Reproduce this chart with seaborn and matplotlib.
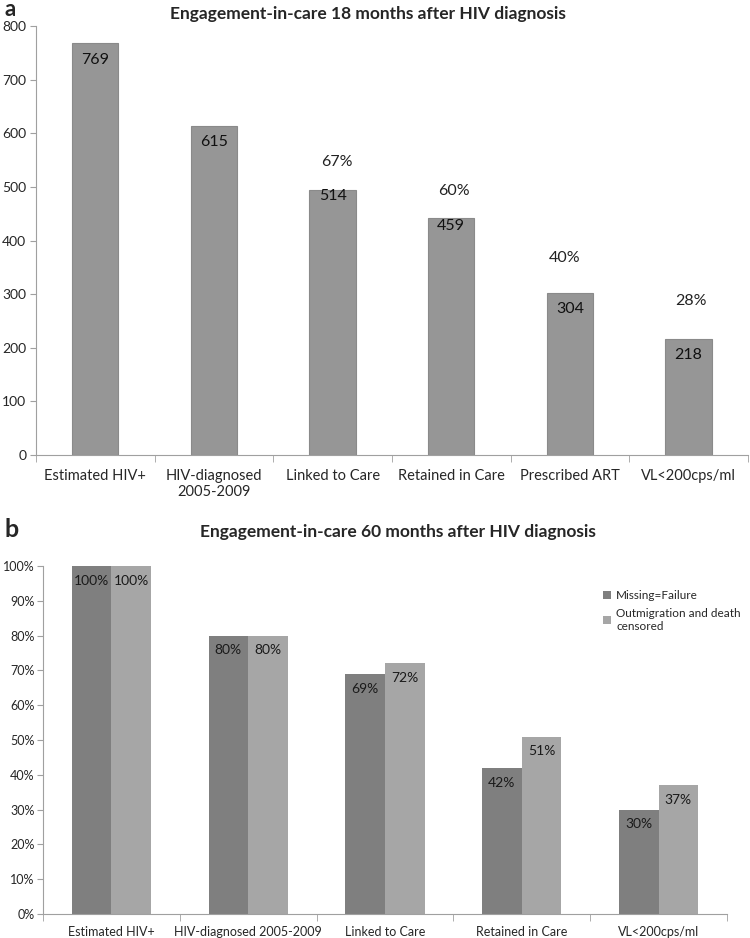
import matplotlib
import numpy as np
import pandas as pd
import seaborn as sns
from matplotlib import pyplot as plt

# panel a: engagement at 18 months
stages_a = ["Estimated HIV+", "HIV-diagnosed\n2005-2009", "Linked to Care",
            "Retained in Care", "Prescribed ART", "VL<200cps/ml"]
bar_heights_a = [769, 613, 495, 442, 302, 216]
counts_a = [769, 615, 514, 459, 304, 218]
pct_a = ["", "", "67%", "60%", "40%", "28%"]

# panel b: engagement at 60 months
stages_b = ["Estimated HIV+", "HIV-diagnosed 2005-2009", "Linked to Care",
            "Retained in Care", "VL<200cps/ml"]
missing_failure = [100, 80, 69, 42, 30]
censored = [100, 80, 72, 51, 37]
series_b = ["Missing=Failure", "Outmigration and death\ncensored"]

sns.set_style("white")
plt.rcParams["font.family"] = ["Lato", "DejaVu Sans"]

fig = plt.figure(figsize=(7.5, 9.38), dpi=100)
ax1 = fig.add_axes([0.048, 0.5149, 0.949, 0.4574])
ax2 = fig.add_axes([0.0573, 0.0256, 0.912, 0.371])

axis_grey = "#a0a0a0"
px = 72 / 100  # points per pixel

# ---- panel a ----
sns.barplot(x=stages_a, y=bar_heights_a, color="#969696", width=0.39,
            edgecolor="#8a8a8a", linewidth=0.8, saturation=1, ax=ax1)
ax1.set_ylim(0, 800)
ax1.set_yticks(np.arange(0, 801, 100))
ax1.tick_params(axis="y", labelsize=10, length=4, color=axis_grey,
                left=True, pad=3)
ax1.tick_params(axis="x", labelsize=10.5, length=0, pad=10)
ax1.set_xticks(np.arange(-0.5, len(stages_a)), minor=True)
ax1.tick_params(axis="x", which="minor", length=5, color=axis_grey, bottom=True)
pct_offsets = [0, 0, 17, 18, 34, 37]
pct_shift = [0, 0, 0.04, 0.02, -0.04, 0.02]
for i, (c, p) in enumerate(zip(counts_a, pct_a)):
    ax1.annotate(str(c), (i, c), xytext=(0, -17 * px), textcoords="offset points",
                 ha="center", va="center", fontsize=11.5, color="#111111")
    if p:
        ax1.annotate(p, (i + pct_shift[i], c), xytext=(0, pct_offsets[i] * px),
                     textcoords="offset points", ha="center", va="center",
                     fontsize=11.5, color="#222222")
ax1.set_title("Engagement-in-care 18 months after HIV diagnosis",
              fontsize=12.5, fontweight="bold", pad=5, x=0.466)
fig.text(0.006, 0.983, "a", fontsize=16, fontweight="bold", va="baseline")

# ---- panel b ----
df_b = pd.DataFrame({
    "stage": stages_b * 2,
    "pct": missing_failure + censored,
    "series": [series_b[0]] * len(stages_b) + [series_b[1]] * len(stages_b),
})
sns.barplot(data=df_b, x="stage", y="pct", hue="series", width=0.58,
            palette=["#7f7f7f", "#a6a6a6"], saturation=1, linewidth=0, ax=ax2)
ax2.set_ylim(0, 100)
ax2.set_yticks(np.arange(0, 101, 10))
ax2.set_yticklabels([f"{v}%" for v in range(0, 101, 10)])
ax2.tick_params(axis="y", labelsize=9, length=4, color=axis_grey,
                left=True, pad=2)
ax2.tick_params(axis="x", labelsize=9, length=0, pad=9)
ax2.set_xticks(np.arange(-0.5, len(stages_b)), minor=True)
ax2.tick_params(axis="x", which="minor", length=5, color=axis_grey, bottom=True)
for cont in ax2.containers:
    ax2.bar_label(cont, labels=[f"{v:.0f}%" for v in cont.datavalues],
                  padding=-15, fontsize=10, color="#1a1a1a")
ax2.set_xlabel("")
ax2.set_ylabel("")
ax2.set_title("Engagement-in-care 60 months after HIV diagnosis",
              fontsize=12.5, fontweight="bold", pad=21, x=0.519)
fig.text(0.006, 0.4275, "b", fontsize=18, fontweight="bold", va="baseline")
ax2.legend(loc="upper left", bbox_to_anchor=(0.812, 0.945), frameon=False,
           fontsize=8.5, handlelength=0.7, handleheight=0.7, handletextpad=0.4,
           labelspacing=0.6, borderaxespad=0)

for ax in (ax1, ax2):
    ax.set_xlabel("")
    ax.set_ylabel("")
    sns.despine(ax=ax)
    ax.spines["left"].set_color(axis_grey)
    ax.spines["bottom"].set_color(axis_grey)

fig.savefig("out.png", dpi=100)
